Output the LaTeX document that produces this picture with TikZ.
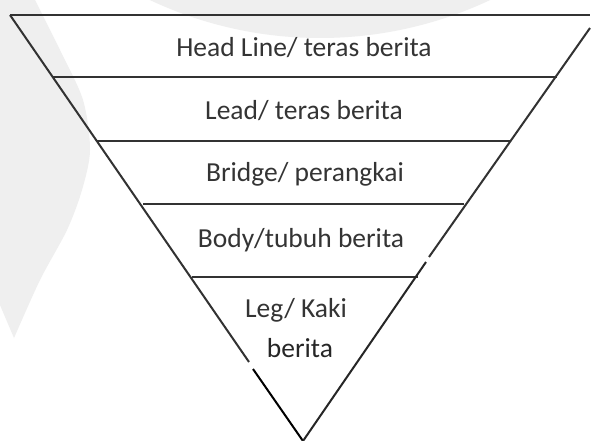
\documentclass[tikz,border=0pt]{standalone}
\usepackage{fontspec}
\setmainfont{Carlito}
\definecolor{inkline}{RGB}{50,50,50}
\definecolor{inktext}{RGB}{52,52,52}
\definecolor{wmark}{RGB}{239,239,239}
\tikzset{
  edge/.style={draw=inkline, line width=2pt},
  layer/.style={draw=inkline, line width=1.7pt},
  label/.style={text=inktext, font=\fontsize{27.5}{31}\selectfont, anchor=base, inner sep=0pt}
}
\begin{document}
\begin{tikzpicture}[x=1pt, y=-1pt]
  \useasboundingbox (0,0) rectangle (591,441);
  \fill[white] (0,0) rectangle (591,441);

  % faint watermark behind the pyramid
  \begin{scope}
    \clip (0,0) rectangle (591,441);
    \fill[wmark] (320,-361) circle[radius=399pt];
    \fill[wmark] plot[smooth] coordinates {(35,0) (60,50) (83,100) (90,150) (82,190) (67,230) (40,280) (14,338)}
      -- (0,305) -- (0,0) -- cycle;
  \end{scope}

  % corners of the inverted triangle
  \coordinate (tl) at (10,15);
  \coordinate (tr) at (590,15);
  \coordinate (rt) at (590,28);
  \coordinate (apex) at (303,441);

  % layer boundaries
  \coordinate (l1) at (53,77);   \coordinate (r1) at (557,77);
  \coordinate (l2) at (97,141);  \coordinate (r2) at (511,141);
  \coordinate (l3) at (143,204); \coordinate (r3) at (464,204);
  \coordinate (l4) at (192,277); \coordinate (r4) at (418,277);

  % small breaks in the outer edges
  \coordinate (lgapA) at (249,362); \coordinate (lgapB) at (253,369);
  \coordinate (rgapA) at (429,257); \coordinate (rgapB) at (426,262);

  \draw[layer] (tl) -- (tr);
  \draw[layer] (l1) -- (r1);
  \draw[layer] (l2) -- (r2);
  \draw[layer] (l3) -- (r3);
  \draw[layer] (l4) -- (r4);

  \draw[edge] (tl) -- (lgapA);
  \draw[edge, draw=black] (lgapB) -- (apex);
  \draw[edge] (rt) -- (rgapA);
  \draw[edge, draw=black!85] (rgapB) -- (apex);

  % layer names
  \node[label] (head) at (304,57) {Head Line/ teras berita};
  \node[label] (lead) at (304,120) {Lead/ teras berita};
  \node[label] (bridge) at (305,181) {Bridge/ perangkai};
  \node[label] (body) at (301,247) {Body/tubuh berita};
  \node[label] (leg) at (296,317) {Leg/ Kaki};
  \node[label, text=black!85] (legb) at (300,357) {berita};
\end{tikzpicture}
\end{document}
